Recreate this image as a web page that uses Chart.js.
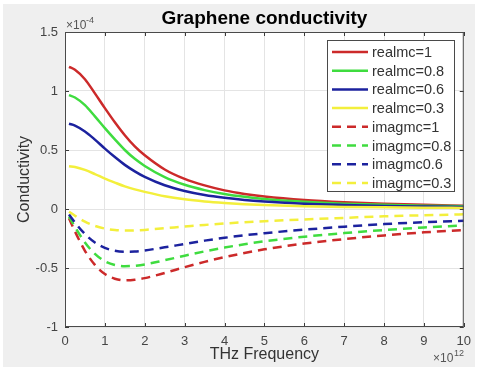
<!DOCTYPE html>
<html>
<head>
<meta charset="utf-8">
<script src="https://cdn.jsdelivr.net/npm/chart.js@4.4.1/dist/chart.umd.min.js"></script>
<style>
  html, body { margin: 0; padding: 0; background: #ffffff; }
  #c { display: block; }
</style>
</head>
<body>
<canvas id="c" width="478" height="371"></canvas>
<script>
// Frequency samples (×10^12 Hz)
const freqTHz = [0.1, 0.25, 0.5, 0.75, 1, 1.25, 1.5, 1.75, 2, 2.5, 3, 3.5, 4, 4.5, 5, 6, 7, 8, 9, 10];

// Real part of the conductivity (×10^-4 S)
const realMc1  = [1.205, 1.18, 1.10, 0.98, 0.855, 0.735, 0.625, 0.53, 0.455, 0.335, 0.255, 0.20, 0.158, 0.128, 0.106, 0.076, 0.057, 0.044, 0.035, 0.028];
const realMc08 = [0.965, 0.945, 0.88, 0.785, 0.685, 0.59, 0.50, 0.425, 0.365, 0.27, 0.205, 0.16, 0.127, 0.103, 0.085, 0.061, 0.045, 0.035, 0.028, 0.023];
const realMc06 = [0.722, 0.707, 0.657, 0.588, 0.512, 0.44, 0.374, 0.319, 0.272, 0.201, 0.153, 0.119, 0.095, 0.077, 0.064, 0.045, 0.034, 0.026, 0.021, 0.017];
const realMc03 = [0.363, 0.356, 0.331, 0.296, 0.258, 0.224, 0.192, 0.166, 0.145, 0.108, 0.082, 0.064, 0.051, 0.041, 0.034, 0.024, 0.018, 0.014, 0.011, 0.009];

// Imaginary part of the conductivity (×10^-4 S)
const imagMc1  = [-0.078, -0.19, -0.354, -0.474, -0.551, -0.591, -0.605, -0.60, -0.586, -0.542, -0.493, -0.448, -0.408, -0.373, -0.342, -0.293, -0.255, -0.224, -0.198, -0.178];
const imagMc08 = [-0.062, -0.152, -0.283, -0.38, -0.442, -0.474, -0.485, -0.481, -0.47, -0.434, -0.396, -0.359, -0.327, -0.299, -0.274, -0.235, -0.204, -0.178, -0.157, -0.140];
const imagMc06 = [-0.047, -0.114, -0.212, -0.284, -0.33, -0.354, -0.362, -0.36, -0.351, -0.325, -0.296, -0.268, -0.244, -0.223, -0.205, -0.175, -0.150, -0.128, -0.112, -0.100];
const imagMc03 = [-0.023, -0.057, -0.107, -0.143, -0.166, -0.178, -0.182, -0.181, -0.177, -0.163, -0.149, -0.135, -0.123, -0.112, -0.103, -0.088, -0.075, -0.062, -0.053, -0.045];

const seriesLabels = ['realmc=1', 'realmc=0.8', 'realmc=0.6', 'realmc=0.3',
                      'imagmc=1', 'imagmc=0.8', 'imagmc0.6', 'imagmc=0.3'];
const seriesValues = [realMc1, realMc08, realMc06, realMc03, imagMc1, imagMc08, imagMc06, imagMc03];

// Axis ticks
const xTicks = [0, 1, 2, 3, 4, 5, 6, 7, 8, 9, 10];
const yTicks = [-1, -0.5, 0, 0.5, 1, 1.5];
const yTickLabels = ['-1', '-0.5', '0', '0.5', '1', '1.5'];

const palette = ['#cc2a2a', '#3fdc3f', '#1c229e', '#f3ef3c'];
const FONT = '"Liberation Sans", Arial, Helvetica, sans-serif';

const datasets = seriesValues.map((vals, i) => ({
  label: seriesLabels[i],
  data: freqTHz.map((f, k) => ({ x: f, y: vals[k] })),
  borderColor: palette[i % 4],
  borderWidth: 2.5,
  borderDash: i >= 4 ? [9, 6] : [],
  pointRadius: 0,
  fill: false,
  cubicInterpolationMode: 'monotone',
  order: seriesValues.length - i
}));

// Figure background, axes box, inward ticks, titles, exponents and legend
const decorations = {
  id: 'decorations',
  beforeDraw(chart) {
    const ctx = chart.ctx, a = chart.chartArea;
    ctx.save();
    ctx.fillStyle = '#ffffff';
    ctx.fillRect(0, 0, chart.width, chart.height);
    ctx.fillStyle = '#efefef';
    ctx.fillRect(3, 4, chart.width - 6, chart.height - 8);
    ctx.fillStyle = '#ffffff';
    ctx.fillRect(a.left, a.top, a.right - a.left, a.bottom - a.top);
    ctx.restore();
  },
  afterDraw(chart) {
    const ctx = chart.ctx, a = chart.chartArea;
    const xs = chart.scales.x, ys = chart.scales.y;
    ctx.save();

    // inward tick marks on all four sides
    ctx.strokeStyle = '#3a3a3a';
    ctx.lineWidth = 1;
    ctx.beginPath();
    xTicks.forEach(v => {
      const px = Math.round(xs.getPixelForValue(v)) + 0.5;
      ctx.moveTo(px, a.bottom); ctx.lineTo(px, a.bottom - 4);
      ctx.moveTo(px, a.top); ctx.lineTo(px, a.top + 4);
    });
    yTicks.forEach(v => {
      const py = Math.round(ys.getPixelForValue(v)) + 0.5;
      ctx.moveTo(a.left, py); ctx.lineTo(a.left + 4, py);
      ctx.moveTo(a.right, py); ctx.lineTo(a.right - 4, py);
    });
    ctx.stroke();

    // axes box
    ctx.strokeStyle = '#4a4a4a';
    ctx.strokeRect(a.left + 0.5, a.top + 0.5, a.right - a.left - 1, a.bottom - a.top - 1);

    // title
    const cx = (a.left + a.right) / 2;
    ctx.fillStyle = '#000000';
    ctx.font = 'bold 19px ' + FONT;
    ctx.textAlign = 'center';
    ctx.textBaseline = 'alphabetic';
    ctx.fillText('Graphene conductivity', cx, 24);

    // axis titles
    ctx.fillStyle = '#333333';
    ctx.font = '16px ' + FONT;
    ctx.fillText('THz Frequency', cx, 359);
    ctx.save();
    ctx.translate(25, (a.top + a.bottom) / 2);
    ctx.rotate(-Math.PI / 2);
    ctx.textBaseline = 'middle';
    ctx.fillText('Conductivity', 0, 0);
    ctx.restore();

    // exponent labels
    ctx.fillStyle = '#555555';
    ctx.textAlign = 'left';
    ctx.textBaseline = 'alphabetic';
    ctx.font = '12px ' + FONT;
    ctx.fillText('\u00d710', a.left + 1, 29);
    ctx.font = '9px ' + FONT;
    ctx.fillText('-4', a.left + 21, 23);
    ctx.font = '12px ' + FONT;
    ctx.fillText('\u00d710', 433, 362);
    ctx.font = '9px ' + FONT;
    ctx.fillText('12', 454, 356);

    // legend
    const lx = 327, ly = 40, lw = 128, lh = 152;
    ctx.fillStyle = '#ffffff';
    ctx.fillRect(lx, ly, lw, lh);
    ctx.strokeStyle = '#4a4a4a';
    ctx.lineWidth = 1;
    ctx.strokeRect(lx + 0.5, ly + 0.5, lw - 1, lh - 1);
    ctx.font = '14.5px ' + FONT;
    ctx.textBaseline = 'middle';
    chart.data.datasets.forEach((ds, i) => {
      const y = 52 + i * 18.7;
      ctx.strokeStyle = ds.borderColor;
      ctx.lineWidth = 2.5;
      ctx.setLineDash(ds.borderDash || []);
      ctx.beginPath();
      ctx.moveTo(332, y);
      ctx.lineTo(368, y);
      ctx.stroke();
      ctx.setLineDash([]);
      ctx.fillStyle = '#333333';
      ctx.fillText(ds.label, 372, y + 1);
    });
    ctx.restore();
  }
};

new Chart(document.getElementById('c'), {
  type: 'line',
  data: { datasets },
  options: {
    responsive: false,
    animation: false,
    devicePixelRatio: 1,
    layout: { padding: { top: 32, right: 11, left: 0, bottom: 0 } },
    plugins: { legend: { display: false }, tooltip: { enabled: false }, title: { display: false } },
    scales: {
      x: {
        type: 'linear',
        min: 0, max: 10,
        afterFit(scale) { scale.height = 44; },
        afterBuildTicks(scale) { scale.ticks = xTicks.map(v => ({ value: v })); },
        ticks: {
          padding: 7, color: '#444444', font: { family: FONT, size: 13 }, maxRotation: 0,
          callback: (v) => String(v)
        },
        grid: { color: '#e4e4e4', lineWidth: 1, drawTicks: false },
        border: { display: false }
      },
      y: {
        type: 'linear',
        min: -1, max: 1.5,
        afterFit(scale) { scale.width = 65; },
        afterBuildTicks(scale) { scale.ticks = yTicks.map(v => ({ value: v })); },
        ticks: {
          padding: 7, color: '#444444', font: { family: FONT, size: 13 },
          callback: (v) => yTickLabels[yTicks.indexOf(v)]
        },
        grid: { color: '#e4e4e4', lineWidth: 1, drawTicks: false },
        border: { display: false }
      }
    }
  },
  plugins: [decorations]
});
</script>
</body>
</html>
